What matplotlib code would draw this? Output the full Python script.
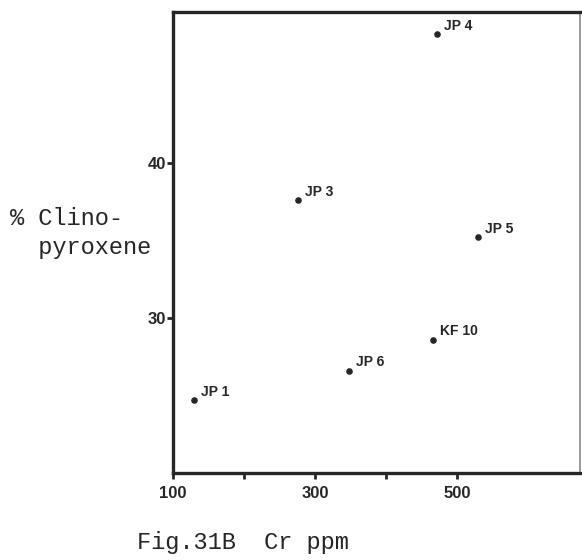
import matplotlib
matplotlib.use("Agg")
import matplotlib.pyplot as plt

# Cr content (ppm) vs. modal clinopyroxene (%)
samples = ["JP 1", "JP 3", "JP 4", "JP 5", "JP 6", "KF 10"]
cr_ppm = [130, 276, 472, 530, 348, 466]
clinopyroxene = [24.7, 37.6, 48.3, 35.2, 26.6, 28.6]

x_major = [100, 300, 500]
x_minor = [200, 400]
y_major = [30, 40]

fig = plt.figure(figsize=(5.82, 5.6), dpi=100)
ax = fig.add_axes([173 / 582, 1 - 473 / 560, (580 - 173) / 582, (473 - 12) / 560])

ink = "#262626"
ax.scatter(cr_ppm, clinopyroxene, s=14, color=ink, zorder=3)
for name, x, y in zip(samples, cr_ppm, clinopyroxene):
    ax.annotate(name, (x, y), xytext=(5, 1), textcoords="offset points",
                fontsize=10, fontweight="bold", family="Liberation Sans",
                color=ink, ha="left", va="bottom")

ax.set_xlim(100, 673)
ax.set_ylim(20, 49.75)

ax.set_xticks(x_major)
ax.set_xticks(x_minor, minor=True)
ax.set_yticks(y_major)
ax.tick_params(axis="both", which="both", direction="out", length=4, width=2,
               color=ink, labelsize=12, labelcolor=ink)
ax.tick_params(axis="x", pad=5)
ax.tick_params(axis="y", pad=1)
for lab in ax.get_xticklabels() + ax.get_yticklabels():
    lab.set_fontweight("bold")
    lab.set_family("Liberation Sans")

for side in ("left", "bottom", "top"):
    ax.spines[side].set_linewidth(2.4)
    ax.spines[side].set_color(ink)
ax.spines["right"].set_linewidth(1.2)
ax.spines["right"].set_color("#888888")

fig.text(10 / 582, 1 - 233 / 560, "% Clino-\n  pyroxene", family="Liberation Mono",
         fontsize=17, color=ink, ha="left", va="center", linespacing=1.3)
fig.text(137 / 582, 1 - 542 / 560, "Fig.31B  Cr ppm", family="Liberation Mono",
         fontsize=17, color=ink, ha="left", va="center")

fig.savefig("out.png", dpi=100)
